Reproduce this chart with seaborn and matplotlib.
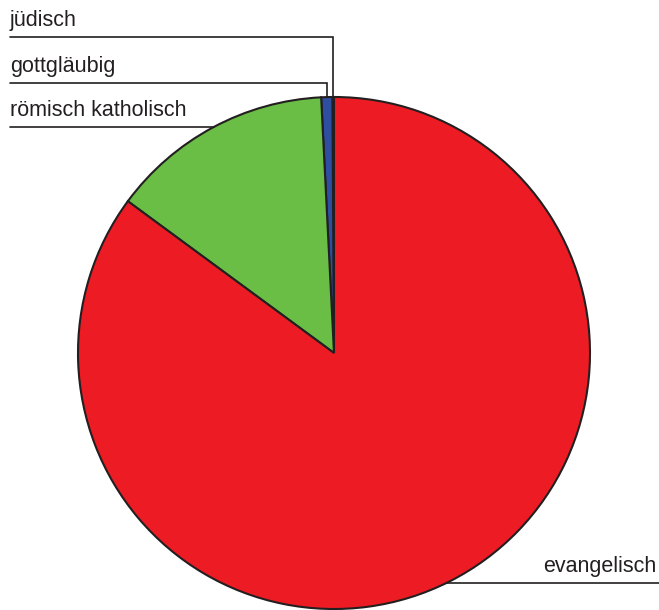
import numpy as np
import matplotlib
matplotlib.use("Agg")
import matplotlib.pyplot as plt
import seaborn as sns

sns.set_theme(style="white")
plt.rcParams["font.family"] = ["Liberation Sans", "DejaVu Sans"]

# religion shares (%), counter-clockwise from 12 o'clock
labels = ["jüdisch", "gottgläubig", "römisch katholisch", "evangelisch"]
shares = [0.1, 0.7, 14.1, 85.1]
colors = ["#7a7a7a", "#2e4fa0", "#6abd45", "#ed1c24"]

W, H = 659, 610
fig = plt.figure(figsize=(W / 100, H / 100), dpi=100)
ax = fig.add_axes([0, 0, 1, 1])

cx, cy, r = 334, 257, 256
wedges, _ = ax.pie(shares, colors=colors, startangle=90, counterclock=True,
                   center=(cx, cy), radius=r, frame=True,
                   wedgeprops=dict(edgecolor="#231f20", linewidth=1.5))
ax.set_xlim(0, W)
ax.set_ylim(0, H)
ax.set_aspect("auto")
ax.set_axis_off()

ink = "#231f20"
lw = 1.2
fs = 15.5

def mid_x(w):
    a = np.deg2rad((w.theta1 + w.theta2) / 2)
    return cx + r * np.cos(a), cy + r * np.sin(a)

# jüdisch / gottgläubig: vertical from the wedge, then left
for w, lab, y_line in [(wedges[0], labels[0], H - 37), (wedges[1], labels[1], H - 83)]:
    x0, y0 = mid_x(w)
    ax.plot([x0, x0, 10], [y0, y_line, y_line], color=ink, lw=lw, solid_joinstyle="miter")
    ax.text(10, y_line + 11, lab, fontsize=fs, color=ink, ha="left", va="baseline")

# römisch katholisch: horizontal to circle edge
y_k = H - 127
xk = cx - np.sqrt(r**2 - (y_k - cy) ** 2)
ax.plot([10, xk], [y_k, y_k], color=ink, lw=lw)
ax.text(10, y_k + 11, labels[2], fontsize=fs, color=ink, ha="left", va="baseline")

# evangelisch: horizontal from circle edge to the right
y_e = H - 583
xe = cx + np.sqrt(r**2 - (y_e - cy) ** 2)
ax.plot([xe, W], [y_e, y_e], color=ink, lw=lw)
ax.text(656, y_e + 11, labels[3], fontsize=fs, color=ink, ha="right", va="baseline")

fig.savefig("out.png", dpi=100)
